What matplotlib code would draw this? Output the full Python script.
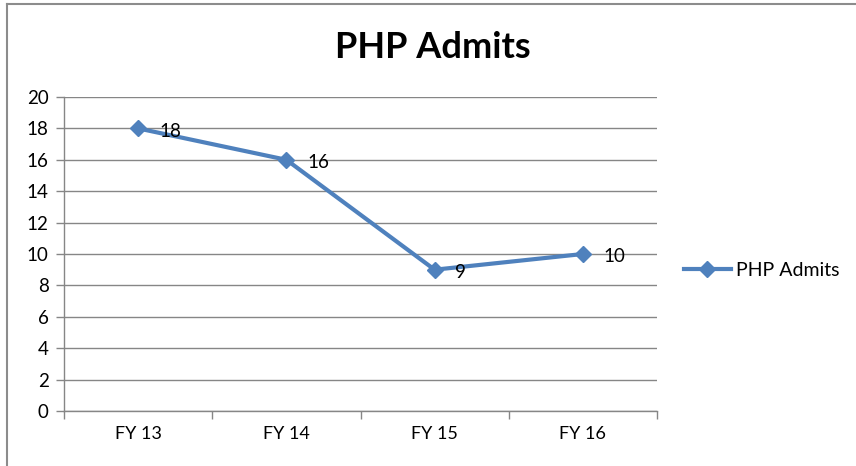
import matplotlib
matplotlib.use("Agg")
import matplotlib.pyplot as plt
from matplotlib.lines import Line2D

categories = ["FY 13", "FY 14", "FY 15", "FY 16"]
values = [18, 16, 9, 10]
series_name = "PHP Admits"
title = "PHP Admits"
yticks = list(range(0, 21, 2))

W, H = 856, 466
plt.rcParams['font.family'] = ['Lato', 'DejaVu Sans']
fig = plt.figure(figsize=(W / 100, H / 100), dpi=100)
fig.patch.set_facecolor("white")

# outer chart border
fig.add_artist(Line2D([6.5 / W, 1.0], [1 - 4 / H, 1 - 4 / H], transform=fig.transFigure,
                      color="#8c8c8c", lw=1.5))
fig.add_artist(Line2D([6.5 / W, 6.5 / W], [0, 1 - 4 / H], transform=fig.transFigure,
                      color="#8c8c8c", lw=1.5))

left, right, top, bottom = 64, 657, 97, 411
ax = fig.add_axes([left / W, 1 - bottom / H, (right - left) / W, (bottom - top) / H])

color = "#4F81BD"
x = list(range(len(categories)))
ax.plot(x, values, color=color, lw=3.0, marker="D", markersize=8, label=series_name,
        solid_capstyle="round")
for xi, v in zip(x, values):
    ax.annotate(str(v), (xi, v), xytext=(15, -2), textcoords="offset points",
                ha="left", va="center", fontsize=13.5, color="black")

ax.set_xlim(-0.5, len(categories) - 0.5)
ax.set_ylim(0, 20)
ax.set_yticks(yticks)
ax.set_xticks(x)
ax.set_xticklabels(categories)
ax.set_xticks([i - 0.5 for i in range(len(categories) + 1)], minor=True)
ax.tick_params(axis="x", which="major", length=0, labelsize=13, pad=11)
ax.tick_params(axis="x", which="minor", length=6, color="#868686", width=1, direction="out")
ax.tick_params(axis="y", length=6, color="#868686", width=1, labelsize=13.5, pad=5)
ax.grid(axis="y", color="#868686", lw=1)
ax.set_axisbelow(True)
for s in ["top", "right"]:
    ax.spines[s].set_visible(False)
for s in ["left", "bottom"]:
    ax.spines[s].set_color("#868686")
    ax.spines[s].set_linewidth(1)

fig.text((335 + 530) / 2 / W, 1 - 48 / H, title, ha="center", va="center",
         fontsize=26, fontweight="bold")

leg = fig.legend(handles=[Line2D([0], [0], color=color, lw=3, marker="D", markersize=8)],
                 labels=[series_name], loc="center left",
                 bbox_to_anchor=(684 / W, 1 - 270 / H), frameon=False, fontsize=14,
                 handlelength=2.4, handletextpad=0.25, borderaxespad=0, borderpad=0)

fig.savefig("out.png", dpi=100)
